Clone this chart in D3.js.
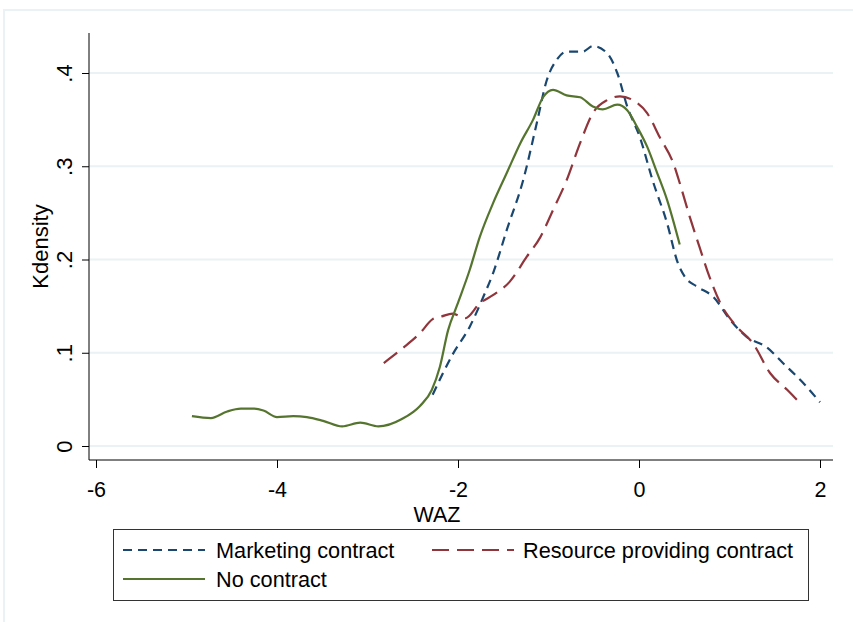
<!DOCTYPE html>
<html>
<head>
<meta charset="utf-8">
<script src="https://cdn.jsdelivr.net/npm/d3@7"></script>
<style>
  body { margin: 0; background: #fff; }
  text { font-family: "Liberation Sans", Arial, sans-serif; fill: #000; }
</style>
</head>
<body>
<svg id="chart"></svg>
<script>
const width = 853;
const height = 622;

// kdensity values: [WAZ, density]
const marketing = [
  [-2.28, .055], [-2.06, .098], [-1.87, .128], [-1.72, .160], [-1.61, .186],
  [-1.46, .232], [-1.28, .285], [-1.13, .346], [-1.02, .392], [-0.91, .414],
  [-0.80, .423], [-0.62, .423], [-0.51, .429], [-0.35, .421], [-0.24, .400],
  [-0.13, .364], [0.01, .331], [0.15, .285], [0.31, .239], [0.43, .196],
  [0.51, .181], [0.64, .171], [0.82, .160], [1.01, .135], [1.19, .117],
  [1.41, .106], [1.59, .089], [1.81, .068], [2.00, .047]
];
const resource = [
  [-2.82, .089], [-2.61, .105], [-2.42, .121], [-2.28, .136], [-2.18, .139],
  [-2.06, .142], [-1.92, .137], [-1.76, .153], [-1.61, .162], [-1.43, .176],
  [-1.24, .203], [-1.09, .224], [-0.95, .253], [-0.80, .285], [-0.65, .325],
  [-0.51, .357], [-0.35, .371], [-0.21, .375], [-0.07, .371], [0.09, .357],
  [0.23, .331], [0.38, .303], [0.45, .282], [0.56, .246], [0.67, .213],
  [0.78, .181], [0.90, .153], [1.08, .128], [1.26, .110], [1.45, .078],
  [1.64, .060], [1.78, .046]
];
const noContract = [
  [-4.94, .032], [-4.73, .030], [-4.55, .037], [-4.40, .040], [-4.25, .040],
  [-4.15, .038], [-4.00, .031], [-3.82, .032], [-3.67, .031], [-3.49, .027],
  [-3.28, .021], [-3.08, .025], [-2.88, .021], [-2.62, .029], [-2.42, .043],
  [-2.29, .060], [-2.20, .085], [-2.11, .124], [-2.01, .151], [-1.87, .189],
  [-1.76, .224], [-1.61, .261], [-1.46, .293], [-1.31, .325], [-1.17, .350],
  [-1.06, .374], [-0.95, .382], [-0.80, .376], [-0.65, .374], [-0.51, .364],
  [-0.40, .361], [-0.24, .366], [-0.13, .360], [-0.02, .342], [0.09, .321],
  [0.20, .293], [0.31, .264], [0.45, .216]
];

const xTicks = [-6, -4, -2, 0, 2];
const yTicks = [0, .1, .2, .3, .4];
const yTickLabels = ['0', '.1', '.2', '.3', '.4'];

const seriesNames = ['Marketing contract', 'Resource providing contract', 'No contract'];
const seriesData = [marketing, resource, noContract];
const seriesColors = ['#1a476f', '#90353b', '#55752f'];
const seriesDash = ['9,6', '17,8', null];

const svg = d3.select('#chart')
    .attr('width', width)
    .attr('height', height);

// outer graph region border (light)
svg.append('rect')
    .attr('x', 4).attr('y', 10)
    .attr('width', 900).attr('height', 700)
    .attr('fill', 'none')
    .attr('stroke', '#eaf2f3')
    .attr('stroke-width', 2);

const x = d3.scaleLinear().domain([-6, 2]).range([96, 820]);
const y = d3.scaleLinear().domain([0, .4]).range([446, 73]);

const plotLeft = 89, plotRight = 833, plotTop = 33, plotBottom = 460;

// gridlines
svg.append('g')
    .selectAll('line')
    .data(yTicks)
    .join('line')
    .attr('x1', plotLeft).attr('x2', plotRight)
    .attr('y1', d => y(d)).attr('y2', d => y(d))
    .attr('stroke', '#eaf2f3')
    .attr('stroke-width', 2);

// y axis
const yAxis = svg.append('g')
    .attr('transform', `translate(${plotLeft},0)`)
    .call(d3.axisLeft(y).tickValues(yTicks).tickSize(7).tickFormat((d, i) => yTickLabels[i]));
yAxis.select('.domain').attr('d', `M0,${plotTop}V${plotBottom}`).attr('stroke', '#000');
yAxis.selectAll('.tick line').attr('stroke', '#000');
yAxis.selectAll('.tick text')
    .attr('font-size', 22)
    .attr('x', 0).attr('dy', 0)
    .attr('text-anchor', 'middle')
    .attr('transform', 'translate(-17,0) rotate(-90)');

// x axis
const xAxis = svg.append('g')
    .attr('transform', `translate(0,${plotBottom})`)
    .call(d3.axisBottom(x).tickValues(xTicks).tickSize(8).tickFormat(d => d3.format('d')(d).replace('−', '-')));
xAxis.select('.domain').attr('d', `M${plotLeft},0H${plotRight}`).attr('stroke', '#000');
xAxis.selectAll('.tick line').attr('stroke', '#000');
xAxis.selectAll('.tick text')
    .attr('font-size', 21.5)
    .attr('y', 0)
    .attr('dy', 37);

// axis titles
svg.append('text')
    .attr('x', (plotLeft + plotRight) / 2 - 24)
    .attr('y', 522)
    .attr('text-anchor', 'middle')
    .attr('font-size', 21.5)
    .text('WAZ');
svg.append('text')
    .attr('transform', `translate(48,${(plotTop + plotBottom) / 2}) rotate(-90)`)
    .attr('text-anchor', 'middle')
    .attr('font-size', 22)
    .text('Kdensity');

// density lines
const line = d3.line()
    .x(d => x(d[0]))
    .y(d => y(d[1]))
    .curve(d3.curveMonotoneX);

svg.append('g')
    .selectAll('path')
    .data(seriesData)
    .join('path')
    .attr('d', line)
    .attr('fill', 'none')
    .attr('stroke', (d, i) => seriesColors[i])
    .attr('stroke-width', 2.2)
    .attr('stroke-dasharray', (d, i) => seriesDash[i]);

// legend
const legend = svg.append('g');
legend.append('rect')
    .attr('x', 113.5).attr('y', 529.5)
    .attr('width', 695).attr('height', 71)
    .attr('fill', '#fff')
    .attr('stroke', '#333')
    .attr('stroke-width', 1);

const legendPos = [[123, 550], [432, 550], [123, 579]];
const items = legend.selectAll('g.item')
    .data(seriesNames)
    .join('g')
    .attr('class', 'item')
    .attr('transform', (d, i) => `translate(${legendPos[i][0]},${legendPos[i][1]})`);
items.append('line')
    .attr('x1', 0).attr('x2', 82)
    .attr('stroke', (d, i) => seriesColors[i])
    .attr('stroke-width', 2.2)
    .attr('stroke-dasharray', (d, i) => seriesDash[i]);
items.append('text')
    .attr('x', (d, i) => i === 1 ? 91 : 93)
    .attr('dy', '0.36em')
    .attr('font-size', 21.7)
    .text(d => d);
</script>
</body>
</html>
